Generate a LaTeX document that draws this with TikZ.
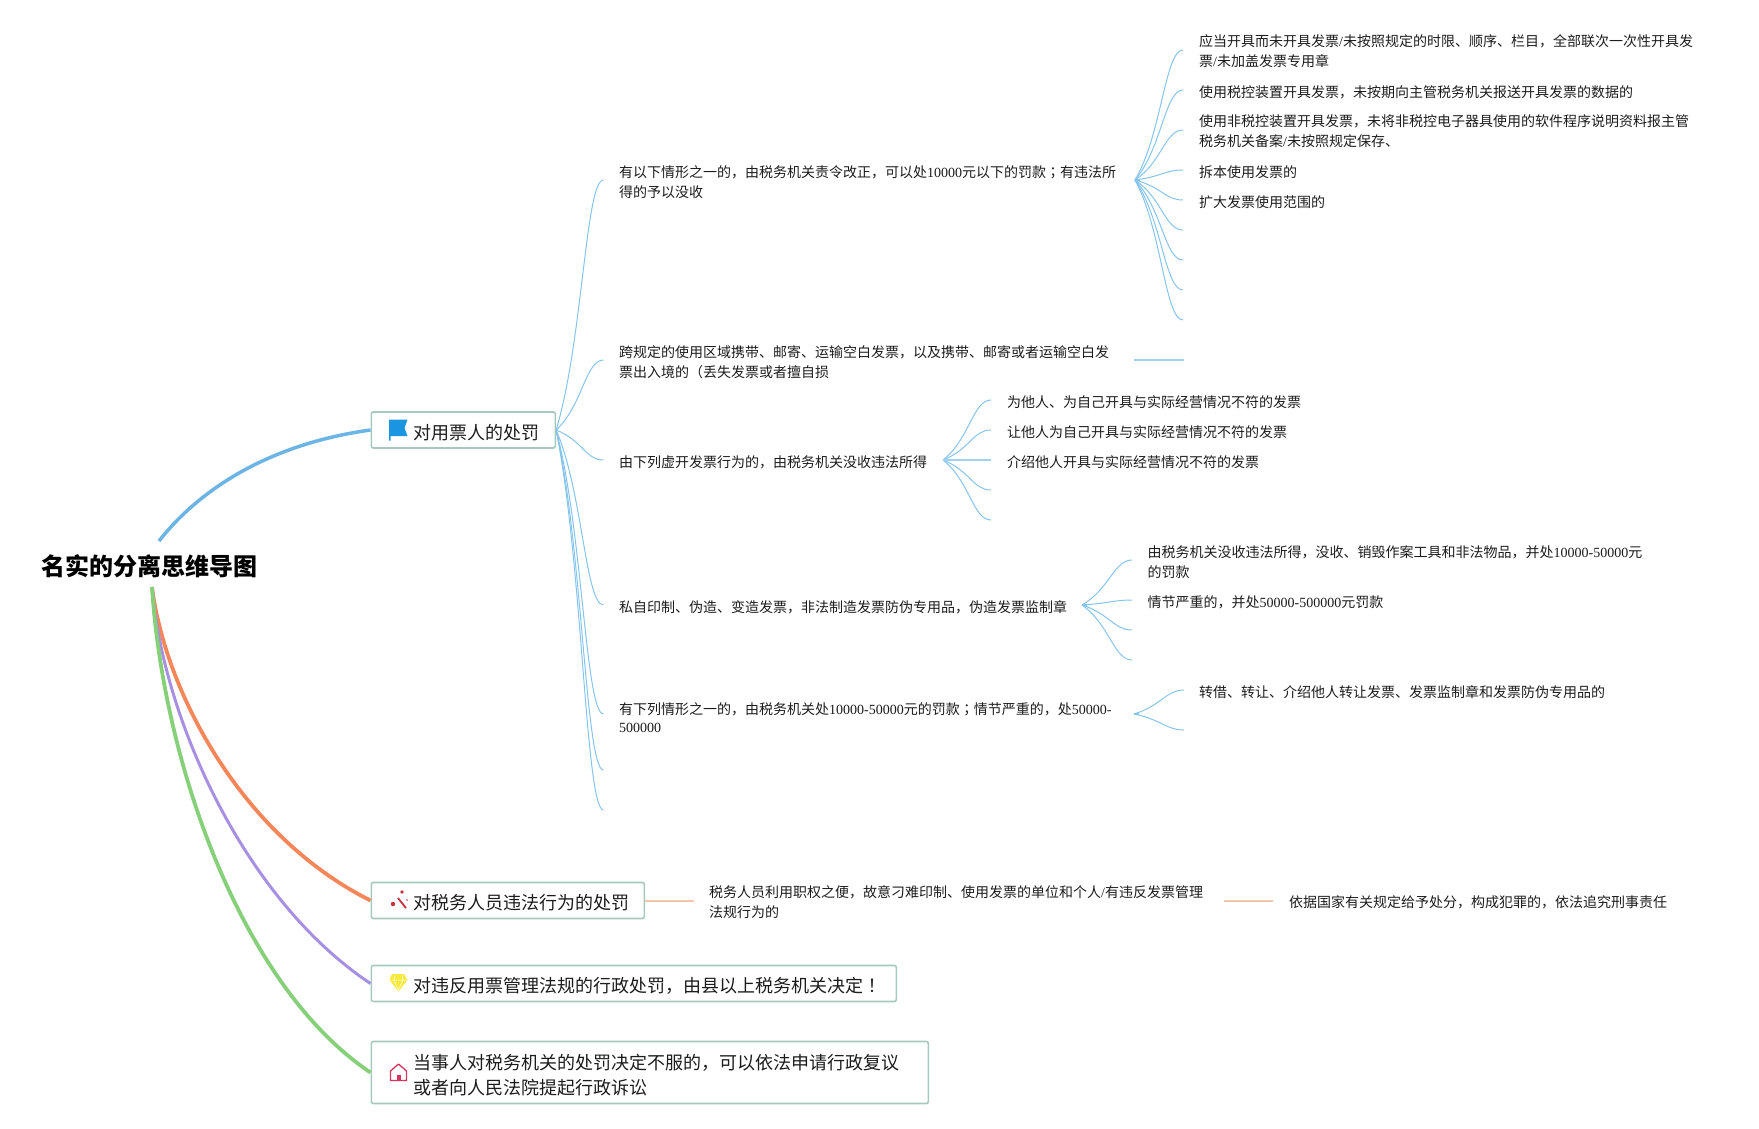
\documentclass[tikz,border=0pt]{standalone}
\usepackage{fontspec}
\setmainfont{Noto Sans CJK SC}
\newfontfamily\numfont{Liberation Serif}
\newfontfamily\punfont{Noto Sans CJK TC}
\usetikzlibrary{calc}
\definecolor{boxline}{HTML}{A6C8BF}
\definecolor{branchblue}{HTML}{6CB4E4}
\definecolor{branchorange}{HTML}{F4875A}
\definecolor{branchpurple}{HTML}{A78FE2}
\definecolor{branchgreen}{HTML}{86D07A}
\definecolor{twigblue}{HTML}{86C4EC}
\definecolor{twigpeach}{HTML}{F4C4AC}
\definecolor{ink}{HTML}{1C1C1C}
\definecolor{flagblue}{HTML}{1A96E0}
\definecolor{wandred}{HTML}{C8323C}
\definecolor{gemyellow}{HTML}{F7EA3C}
\definecolor{housered}{HTML}{D6335F}
\tikzset{
	topic/.style={draw=boxline,line width=1.6pt,rounded corners=2pt,anchor=west,inner sep=0pt,align=left,text=ink,font=\fontsize{18}{25}\selectfont},
	note/.style={anchor=west,inner sep=0pt,align=left,text=ink,font=\fontsize{14}{20}\selectfont},
	branch/.style={line width=#1},
	twig/.style={twigblue,line width=1pt},
	twigflat/.style={twigblue!80,line width=1.8pt},
	peachline/.style={twigpeach,line width=2pt}
}
\newcommand{\nm}[1]{{\numfont #1}}
\newcommand{\pun}[1]{{\punfont #1}}
\newcommand{\pad}{\hspace*{42pt}\rule{0pt}{20pt}}
\newcommand{\twig}[2]{\draw[twig] (#1) .. controls ($(#1)!.35!(#2)+(10,0)$) and ($(#2)+(-18,0)$) .. (#2);}
\newcommand{\hubstub}[1]{\draw[twig,line width=2pt] (#1) -- ++(5,0);}

\begin{document}
\begin{tikzpicture}[x=1pt,y=-1pt]
	\useasboundingbox (0,0) rectangle (1759,1128);

	\node[anchor=west,inner sep=0pt,text=black,font=\fontsize{24}{28}\selectfont\bfseries] (root) at (41,566) {名实的分离思维导图};
	\coordinate (rootup) at (159,541);
	\coordinate (rootdown) at (152,587);

	\node[topic,minimum width=184pt,minimum height=36pt,text width=184pt] (pay) at (370.5,430) {\pad 对用票人的处罚};
	\node[topic,minimum width=273pt,minimum height=36pt,text width=273pt] (staff) at (370.5,900.5) {\pad 对税务人员违法行为的处罚};
	\node[topic,minimum width=525pt,minimum height=36pt,text width=525pt] (admin) at (370.5,983.5) {\pad 对违反用票管理法规的行政处罚，由县以上税务机关决定\pun{！}};
	\node[topic,minimum width=557pt,minimum height=62pt,text width=557pt] (appeal) at (370.5,1072.5) {\pad 当事人对税务机关的处罚决定不服的，可以依法申请行政复议\\\hspace*{42pt}或者向人民法院提起行政诉讼};

	\draw[branch=3.5pt,branchblue] (rootup) .. controls (195,495) and (262,445) .. (pay.west);
	\draw[branch=3.8pt,branchorange] (rootdown) .. controls (165,690) and (240,835) .. (staff.west);
	\draw[branch=3pt,branchpurple] (rootdown) .. controls (163,720) and (245,900) .. (admin.west);
	\draw[branch=3.8pt,branchgreen] (rootdown) .. controls (163,760) and (240,985) .. (appeal.west);

	\fill[flagblue] (389,419.5) -- (407.5,419.5) -- (404.5,428) -- (407.5,436) -- (390.5,436) -- (390.5,440.5) -- (389,440.5) -- cycle;
	\draw[wandred,line width=1.8pt] (398,898) -- (406,908);
	\fill[wandred] (393,904) circle (2.2pt) (402,892) circle (1.8pt) (407,900) circle (0.9pt);
	\fill[gemyellow] (392,974) -- (404,974) -- (407.5,980) -- (398.5,991.5) -- (389.5,980) -- cycle;
	\draw[white,line width=0.5pt] (390,980) -- (407,980) (394,980) -- (398.5,990) -- (403,980) (395,975) -- (394,980) (402,975) -- (403,980);
	\draw[housered,line width=1.3pt,line join=round] (390.5,1071) -- (398.5,1064) -- (406.5,1071) -- (406.5,1080.5) -- (390.5,1080.5) -- cycle;
	\fill[housered] (396.5,1075) rectangle (400.5,1080.5);

	\node[note] (fine) at (619,182.5) {有以下情形之一的，由税务机关责令改正，可以处\nm{10000}元以下的罚款\pun{；}有违法所\\得的予以没收};
	\node[note] (carry) at (619,362.5) {跨规定的使用区域携带、邮寄、运输空白发票，以及携带、邮寄或者运输空白发\\票出入境的（丢失发票或者擅自损};
	\node[note] (fake) at (619,462) {由下列虚开发票行为的，由税务机关没收违法所得};
	\node[note] (forge) at (619,607.5) {私自印制、伪造、变造发票，非法制造发票防伪专用品，伪造发票监制章};
	\node[note] (lend) at (619,718) {有下列情形之一的，由税务机关处\nm{10000-50000}元的罚款\pun{；}情节严重的，处\nm{50000-}\\[-2pt]\nm{500000}};

	\foreach \nname/\ny in {fineend/180,carryend/360,fakeend/460,forgeend/605,lendend/714,blanka/770,blankb/810}{
		\coordinate (\nname) at (603.5,\ny);
		\twig{pay.east}{\nname}
	}

	\coordinate (finehub) at (1135,180);
	\hubstub{finehub}
	\foreach \nname/\ny in {fa/50,fb/90,fc/130,fd/170,fe/200,ff/230,fg/260,fh/290,fi/320}{
		\coordinate (\nname) at (1183,\ny);
		\twig{finehub}{\nname}
	}
	\node[note] (fatext) at (1199,51.5) {应当开具而未开具发票\nm{/}未按照规定的时限、顺序、栏目，全部联次一次性开具发\\票\nm{/}未加盖发票专用章};
	\node[note] (fbtext) at (1199,92) {使用税控装置开具发票，未按期向主管税务机关报送开具发票的数据的};
	\node[note] (fctext) at (1199,131.5) {使用非税控装置开具发票，未将非税控电子器具使用的软件程序说明资料报主管\\税务机关备案\nm{/}未按照规定保存、};
	\node[note] (fdtext) at (1199,172) {拆本使用发票的};
	\node[note] (fetext) at (1199,202) {扩大发票使用范围的};

	\coordinate (carryhub) at (1134,360);
	\coordinate (carryleaf) at (1184,360);
	\draw[twigflat] (carryhub) -- (carryleaf);

	\coordinate (fakehub) at (943,460);
	\hubstub{fakehub}
	\foreach \nname/\ny in {ka/400,kb/430,kd/490,ke/520}{
		\coordinate (\nname) at (991,\ny);
		\twig{fakehub}{\nname}
	}
	\coordinate (kc) at (991,460);
	\draw[twigflat] (fakehub) -- (kc);
	\node[note] (katext) at (1007,402) {为他人、为自己开具与实际经营情况不符的发票};
	\node[note] (kbtext) at (1007,432) {让他人为自己开具与实际经营情况不符的发票};
	\node[note] (kctext) at (1007,462) {介绍他人开具与实际经营情况不符的发票};

	\coordinate (forgehub) at (1082,605);
	\hubstub{forgehub}
	\foreach \nname/\ny in {ga/560,gb/600,gc/630,gd/660}{
		\coordinate (\nname) at (1132,\ny);
		\twig{forgehub}{\nname}
	}
	\node[note] (gatext) at (1147.5,562) {由税务机关没收违法所得，没收、销毁作案工具和非法物品，并处\nm{10000-50000}元\\的罚款};
	\node[note] (gbtext) at (1147.5,602) {情节严重的，并处\nm{50000-500000}元罚款};

	\coordinate (lendhub) at (1134,714);
	\hubstub{lendhub}
	\foreach \nname/\ny in {la/690,lb/730}{
		\coordinate (\nname) at (1184,\ny);
		\twig{lendhub}{\nname}
	}
	\node[note] (latext) at (1199,692) {转借、转让、介绍他人转让发票、发票监制章和发票防伪专用品的};

	\node[note] (abuse) at (709,902) {税务人员利用职权之便，故意刁难印制、使用发票的单位和个人\nm{/}有违反发票管理\\法规行为的};
	\node[note] (punish) at (1289,902) {依据国家有关规定给予处分，构成犯罪的，依法追究刑事责任};
	\coordinate (abuseend) at (694,900.5);
	\coordinate (abuseout) at (1224,900.5);
	\coordinate (punishend) at (1273,900.5);
	\draw[peachline] (staff.east) -- (abuseend);
	\draw[peachline] (abuseout) -- (punishend);
\end{tikzpicture}
\end{document}
